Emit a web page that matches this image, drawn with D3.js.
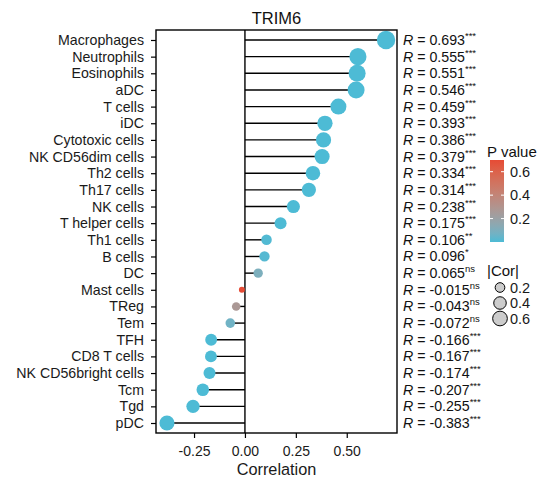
<!DOCTYPE html>
<html lang="en">
<head>
<meta charset="utf-8">
<title>TRIM6 lollipop</title>
<script src="https://cdn.jsdelivr.net/npm/d3@7"></script>
<style>
  body { margin: 0; background: white; }
  svg { font-family: "Liberation Sans", Arial, sans-serif; }
  .axis path, .axis line { stroke: black; stroke-width: 1.2px; }
  .axis text { fill: #1a1a1a; font-size: 13.5px; }
</style>
</head>
<body>
<script>
// data
var title = "TRIM6";
var cells = ["Macrophages", "Neutrophils", "Eosinophils", "aDC", "T cells", "iDC",
  "Cytotoxic cells", "NK CD56dim cells", "Th2 cells", "Th17 cells", "NK cells",
  "T helper cells", "Th1 cells", "B cells", "DC", "Mast cells", "TReg", "Tem",
  "TFH", "CD8 T cells", "NK CD56bright cells", "Tcm", "Tgd", "pDC"];
var cors = [0.693, 0.555, 0.551, 0.546, 0.459, 0.393, 0.386, 0.379, 0.334, 0.314,
  0.238, 0.175, 0.106, 0.096, 0.065, -0.015, -0.043, -0.072, -0.166, -0.167,
  -0.174, -0.207, -0.255, -0.383];
var pvals = [0, 0, 0, 0, 0, 0, 0, 0, 0, 0, 0, 0.00001, 0.007, 0.014, 0.098, 0.70,
  0.27, 0.067, 0, 0, 0, 0, 0, 0];
var stars = ["***", "***", "***", "***", "***", "***", "***", "***", "***", "***",
  "***", "***", "**", "*", "ns", "ns", "ns", "ns", "***", "***", "***", "***", "***", "***"];
var xTicks = [-0.25, 0, 0.25, 0.5];
var pTicks = [0.2, 0.4, 0.6];
var sizeTicks = [0.2, 0.4, 0.6];

var w = 539, h = 479;
var panel = {left: 156, right: 397, top: 30, bottom: 433};

// plain hyphen instead of the unicode minus d3 uses
function fmt(spec) {
    var f = d3.format(spec);
    return function(v) { return f(v).replace("\u2212", "-"); };
}
var f2 = fmt(".2f"), f3 = fmt(".3f");

var svg = d3.select("body").append("svg")
    .attr("width", w)
    .attr("height", h);

// scales
var ext = d3.extent(cors);
var pad = (ext[1] - ext[0]) * 0.05;
var xScale = d3.scaleLinear()
    .domain([ext[0] - pad, ext[1] + pad])
    .range([panel.left, panel.right]);

var yScale = d3.scalePoint()
    .domain(cells)
    .range([panel.top, panel.bottom])
    .padding(0.6);

var colScale = d3.scaleLinear()
    .domain([0, d3.max(pvals)])
    .range(["#4DBBD5", "#E64B35"])
    .interpolate(d3.interpolateLab);

// ggplot style area size: rescale |cor| then sqrt
var absCor = cors.map(function(d) { return Math.abs(d); });
var sizeT = d3.scaleLinear().domain(d3.extent(absCor)).range([0, 1]);
var rScale = d3.scaleSqrt().domain([0, 1]).range([3, 9.2]);
function radius(v) { return rScale(Math.max(0, sizeT(v))); }

var rows = cells.map(function(c, i) {
    return {cell: c, cor: cors[i], p: pvals[i], star: stars[i]};
});

// title
svg.append("text")
    .attr("x", (panel.left + panel.right) / 2)
    .attr("y", 24)
    .attr("text-anchor", "middle")
    .style("font-size", "16.5px")
    .style("fill", "#111")
    .text(title);

// stems
svg.selectAll("line.stem")
    .data(rows)
    .enter()
    .append("line")
    .attr("class", "stem")
    .attr("x1", xScale(0))
    .attr("x2", function(d) { return xScale(d.cor); })
    .attr("y1", function(d) { return yScale(d.cell); })
    .attr("y2", function(d) { return yScale(d.cell); })
    .attr("stroke", "black")
    .attr("stroke-width", 1.4);

// zero line
svg.append("line")
    .attr("x1", xScale(0)).attr("x2", xScale(0))
    .attr("y1", panel.top).attr("y2", panel.bottom)
    .attr("stroke", "black")
    .attr("stroke-width", 1.4);

// points
svg.selectAll("circle.pt")
    .data(rows)
    .enter()
    .append("circle")
    .attr("class", "pt")
    .attr("cx", function(d) { return xScale(d.cor); })
    .attr("cy", function(d) { return yScale(d.cell); })
    .attr("r", function(d) { return radius(Math.abs(d.cor)); })
    .attr("fill", function(d) { return colScale(d.p); });

// panel border
svg.append("rect")
    .attr("x", panel.left).attr("y", panel.top)
    .attr("width", panel.right - panel.left)
    .attr("height", panel.bottom - panel.top)
    .attr("fill", "none")
    .attr("stroke", "black")
    .attr("stroke-width", 1.4);

// axes
var yAxis = d3.axisLeft(yScale).tickSize(5).tickPadding(7);
svg.append("g")
    .attr("class", "axis")
    .attr("transform", "translate(" + panel.left + ",0)")
    .call(yAxis)
    .call(function(g) { g.select(".domain").remove(); })
    .selectAll("text").style("font-size", "14.2px");

var xAxis = d3.axisBottom(xScale).tickValues(xTicks).tickSize(5).tickPadding(8)
    .tickFormat(f2);
svg.append("g")
    .attr("class", "axis")
    .attr("transform", "translate(0," + panel.bottom + ")")
    .call(xAxis)
    .call(function(g) { g.select(".domain").remove(); })
    .selectAll("text").style("font-size", "14px");

svg.append("text")
    .attr("x", (panel.left + panel.right) / 2)
    .attr("y", 475)
    .attr("text-anchor", "middle")
    .style("font-size", "16.3px")
    .style("fill", "#1a1a1a")
    .text("Correlation");

// R labels on right
var lab = svg.selectAll("text.rlab")
    .data(rows)
    .enter()
    .append("text")
    .attr("class", "rlab")
    .attr("x", 403)
    .attr("y", function(d) { return yScale(d.cell) + 5; })
    .style("font-size", "14.2px")
    .style("fill", "#111");
lab.append("tspan").style("font-style", "italic").text("R");
lab.append("tspan").text(function(d) { return " = " + f3(d.cor); });
lab.append("tspan")
    .attr("dy", -6)
    .style("font-size", "9.5px")
    .text(function(d) { return d.star; });

// P value legend
var lx = 487;
svg.append("text")
    .attr("x", lx).attr("y", 157)
    .style("font-size", "15px").style("fill", "#111")
    .text("P value");

var barTop = 160, barBot = 242, barX = 490, barW = 14;
var pBar = d3.scaleLinear().domain([0, d3.max(pvals)]).range([barBot, barTop]);
var defs = svg.append("defs");
var grad = defs.append("linearGradient")
    .attr("id", "pgrad")
    .attr("x1", 0).attr("x2", 0).attr("y1", 1).attr("y2", 0);
d3.range(0, 1.01, 0.1).forEach(function(t) {
    grad.append("stop")
        .attr("offset", t)
        .attr("stop-color", colScale(t * d3.max(pvals)));
});
svg.append("rect")
    .attr("x", barX).attr("y", barTop)
    .attr("width", barW).attr("height", barBot - barTop)
    .attr("fill", "url(#pgrad)");
pTicks.forEach(function(v) {
    var y = pBar(v);
    svg.append("line").attr("x1", barX).attr("x2", barX + 3)
        .attr("y1", y).attr("y2", y).attr("stroke", "white").attr("stroke-width", 1);
    svg.append("line").attr("x1", barX + barW - 3).attr("x2", barX + barW)
        .attr("y1", y).attr("y2", y).attr("stroke", "white").attr("stroke-width", 1);
    svg.append("text")
        .attr("x", barX + barW + 6).attr("y", y + 5)
        .style("font-size", "14.5px").style("fill", "#1a1a1a")
        .text(v.toFixed(1));
});

// |Cor| legend
svg.append("text")
    .attr("x", lx).attr("y", 276)
    .style("font-size", "15px").style("fill", "#111")
    .text("|Cor|");
sizeTicks.forEach(function(v, i) {
    var y = 287.5 + i * 15.5;
    svg.append("circle")
        .attr("cx", 500).attr("cy", y)
        .attr("r", radius(v) - 1.4)
        .attr("fill", "#cccccc")
        .attr("stroke", "black")
        .attr("stroke-width", 1);
    svg.append("text")
        .attr("x", barX + barW + 6).attr("y", y + 5)
        .style("font-size", "14.5px").style("fill", "#1a1a1a")
        .text(v.toFixed(1));
});
</script>
</body>
</html>
